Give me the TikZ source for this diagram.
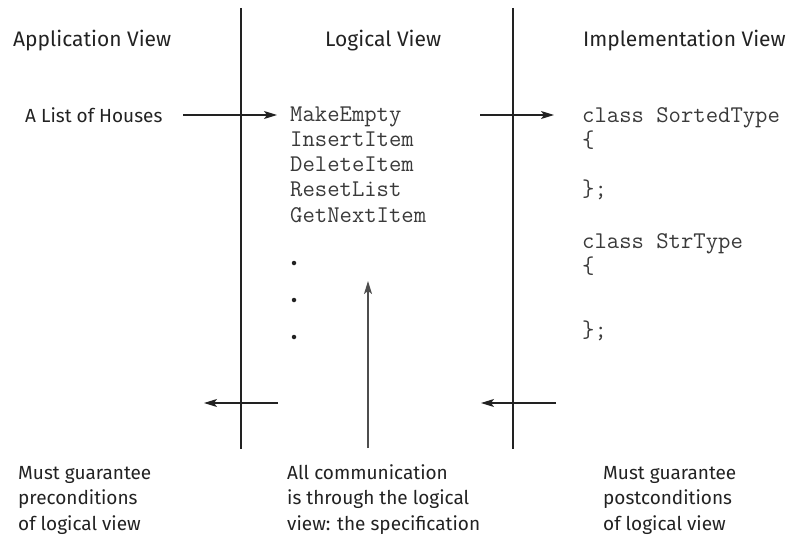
\documentclass[tikz,border=0pt]{standalone}
\usepackage{fontspec}
\setmainfont{Fira Sans}
\usetikzlibrary{arrows.meta}
\definecolor{ink}{HTML}{222222}
\definecolor{monoink}{HTML}{3A3A3A}
\tikzset{
  wall/.style={line width=2.8pt, draw=ink},
  flow/.style={line width=1.3pt, draw=ink, -{Stealth[length=13pt,width=8pt,inset=3pt]}},
  upflow/.style={line width=1.5pt, draw=ink!80, -{Stealth[length=13pt,width=8pt,inset=3pt]}},
  head/.style={anchor=base west, inner sep=0pt, text=ink, font=\fontsize{21}{25}\selectfont},
  body/.style={anchor=base west, inner sep=0pt, text=ink, font=\fontsize{19}{25.5}\selectfont, align=left},
  code/.style={anchor=base west, inner sep=0pt, text=monoink, font=\ttfamily\fontsize{24}{25.2}\selectfont},
  dot/.style={circle, fill=ink, inner sep=0pt, minimum size=4.5pt}
}
\begin{document}
\begin{tikzpicture}[x=1pt,y=-1pt]
\useasboundingbox (0,0) rectangle (787,535);
% walls
\coordinate (w1t) at (241,8); \coordinate (w1b) at (241,449);
\coordinate (w2t) at (513,8); \coordinate (w2b) at (513,449);
\draw[wall] (w1t) -- (w1b);
\draw[wall] (w2t) -- (w2b);
% headers
\node[head] (happ) at (13,47) {Application View};
\node[head] (hlog) at (325,47) {Logical View};
\node[head] (himp) at (583,47) {Implementation View};
% application
\node[body] (houses) at (25,122) {A List of Houses};
% logical ops
\node[code] (op1) at (290,121) {MakeEmpty};
\node[code] (op2) at (290,146.25) {InsertItem};
\node[code] (op3) at (290,171.5) {DeleteItem};
\node[code] (op4) at (290,196.75) {ResetList};
\node[code] (op5) at (290,222) {GetNextItem};
\node[dot] (d1) at (294,263) {};
\node[dot] (d2) at (294,300) {};
\node[dot] (d3) at (294,337) {};
% implementation
\node[code] (c1) at (582,122) {class SortedType};
\node[code] (c2) at (582,147) {\{};
\node[code] (c3) at (582,196) {\};};
\node[code] (c4) at (582,248) {class StrType};
\node[code] (c5) at (582,273) {\{};
\node[code] (c6) at (582,337) {\};};
% top arrows
\coordinate (a1s) at (183,115); \coordinate (a1e) at (277,115);
\coordinate (a2s) at (480,115); \coordinate (a2e) at (554,115);
\draw[flow] (a1s) -- (a1e);
\draw[flow] (a2s) -- (a2e);
% bottom arrows
\coordinate (b1s) at (278,403); \coordinate (b1e) at (204,403);
\coordinate (b2s) at (556,403); \coordinate (b2e) at (481,403);
\draw[flow] (b1s) -- (b1e);
\draw[flow] (b2s) -- (b2e);
% up arrow
\coordinate (us) at (368,448); \coordinate (ue) at (368,281);
\draw[upflow] (us) -- (ue);
% bottom notes (base = last line)
\node[body] (n1) at (18,530) {Must guarantee\\preconditions\\of logical view};
\node[body] (n2) at (287,530) {All communication\\is through the logical\\view: the specification};
\node[body] (n3) at (603,530) {Must guarantee\\postconditions\\of logical view};
\end{tikzpicture}
\end{document}
